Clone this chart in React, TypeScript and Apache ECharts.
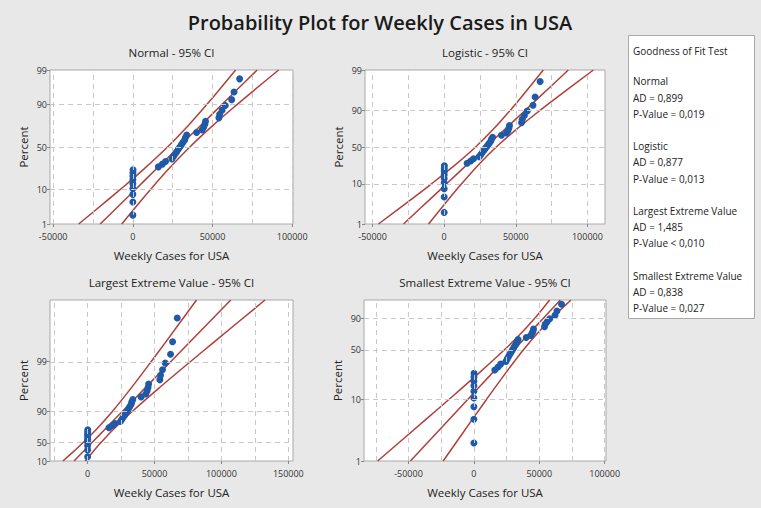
import React, { useEffect, useRef } from "react";
import * as echarts from "echarts";

// ---- data (weekly cases, sorted ascending) ----
const weeklyCases = [
  0, 0, 0, 1, 2, 14, 35, 60, 120,
  16000, 18500, 20500, 24500, 25500, 26500, 27500, 28500, 29500, 30500,
  31500, 32500, 33000, 33800, 40000, 43500, 44500, 45200, 45600, 54000,
  54500, 56000, 58000, 62000, 63500, 67000,
];

// percent levels at which the fitted lines / confidence bounds were read
const percentLevels = [1, 5, 10, 25, 50, 75, 90, 95, 99];

const normalFit = [-20490, -6075, 1619, 14481, 28750, 43019, 55881, 63575, 77990];
const normalCiLeft = [-33990, -16834, -7846, 6711, 21736, 35249, 46416, 52816, 64489];
const normalCiRight = [-6990, 4684, 11084, 22251, 35764, 50789, 65346, 74334, 91491];

const logisticFit = [-28398, -7721, 1635, 15391, 29150, 42909, 56665, 66021, 86698];
const logisticCiLeft = [-45886, -20211, -8842, 7256, 21963, 34774, 46188, 53531, 69210];
const logisticCiRight = [-10910, 4769, 12112, 23526, 36337, 51044, 67142, 78511, 104186];

const levFit = [-10103, -1885, 3146, 12843, 26090, 42897, 62094, 75852, 107002];
const levCiLeft = [-18459, -9039, -3503, 6493, 18655, 32506, 47456, 57944, 81409];
const levCiRight = [-1747, 5269, 9795, 19193, 33525, 53288, 76732, 93760, 132595];

const sevFit = [-48522, -18043, -4582, 14202, 30646, 43607, 53096, 58018, 66059];
const sevCiLeft = [-73563, -35565, -18904, 4035, 23371, 37394, 46590, 51018, 57883];
const sevCiRight = [-23481, -521, 9740, 24369, 37921, 49820, 59602, 65018, 74235];

// tick labels
const stdTickPercents = [1, 10, 50, 90, 99];
const stdTickLabels = ["1", "10", "50", "90", "99"];
const levTickPercents = [1, 10, 50, 90];
const levTickLabels = ["10", "50", "90", "99"];
const sevTickPercents = [1, 10, 50, 90];
const sevTickLabels = ["1", "10", "50", "90"];
const gridPercents = [10, 50, 90];

const xLabelsA = [-50000, 0, 50000, 100000];
const xLabelsLev = [0, 50000, 100000, 150000];
const xGridA = [-50000, -25000, 0, 25000, 50000, 75000, 100000];
const xGridLev = [-25000, 0, 25000, 50000, 75000, 100000, 125000, 150000];
const xGridSev = [-75000, -50000, -25000, 0, 25000, 50000, 75000, 100000];

const panelTitles = [
  "Normal - 95% CI",
  "Logistic - 95% CI",
  "Largest Extreme Value - 95% CI",
  "Smallest Extreme Value - 95% CI",
];

const legendLines = [
  "Goodness of Fit Test",
  "",
  "Normal",
  "AD = 0,899",
  "P-Value = 0,019",
  "",
  "Logistic",
  "AD = 0,877",
  "P-Value = 0,013",
  "",
  "Largest Extreme Value",
  "AD = 1,485",
  "P-Value < 0,010",
  "",
  "Smallest Extreme Value",
  "AD = 0,838",
  "P-Value = 0,027",
];

// ---- probability-scale transforms ----
function probit(p: number): number {
  const a = [-3.969683028665376e1, 2.209460984245205e2, -2.759285104469687e2, 1.38357751867269e2, -3.066479806614716e1, 2.506628277459239];
  const b = [-5.447609879822406e1, 1.615858368580409e2, -1.556989798598866e2, 6.680131188771972e1, -1.328068155288572e1];
  const c = [-7.784894002430293e-3, -3.223964580411365e-1, -2.400758277161838, -2.549732539343734, 4.374664141464968, 2.938163982698783];
  const d = [7.784695709041462e-3, 3.224671290700398e-1, 2.445134137142996, 3.754408661907416];
  const pl = 0.02425;
  if (p < pl) {
    const q = Math.sqrt(-2 * Math.log(p));
    return (((((c[0] * q + c[1]) * q + c[2]) * q + c[3]) * q + c[4]) * q + c[5]) / ((((d[0] * q + d[1]) * q + d[2]) * q + d[3]) * q + 1);
  }
  if (p <= 1 - pl) {
    const q = p - 0.5;
    const r = q * q;
    return ((((((a[0] * r + a[1]) * r + a[2]) * r + a[3]) * r + a[4]) * r + a[5]) * q) / (((((b[0] * r + b[1]) * r + b[2]) * r + b[3]) * r + b[4]) * r + 1);
  }
  const q = Math.sqrt(-2 * Math.log(1 - p));
  return -(((((c[0] * q + c[1]) * q + c[2]) * q + c[3]) * q + c[4]) * q + c[5]) / ((((d[0] * q + d[1]) * q + d[2]) * q + d[3]) * q + 1);
}
const logit = (p: number) => Math.log(p / (1 - p));
const gumbelMax = (p: number) => -Math.log(-Math.log(p));
const gumbelMin = (p: number) => Math.log(-Math.log(1 - p));

const FONT = "Open Sans";
const BLUE = "#1f5aa8";
const RED = "#b0403a";

export default function App() {
  const ref = useRef<HTMLDivElement>(null);
  useEffect(() => {
    if (!ref.current) return;
    const chart = echarts.init(ref.current, null, { renderer: "svg" });
    const n = weeklyCases.length;
    // median-rank plotting positions (Benard), in percent
    const plotPercents = weeklyCases.map((_, i) => ((i + 1 - 0.3) / (n + 0.4)) * 100);

    const panels = [
      { T: probit, fit: normalFit, L: normalCiLeft, R: normalCiRight, ticks: stdTickPercents, labels: stdTickLabels, xMin: -52000, xMax: 100500, xLabels: xLabelsA, xGrid: xGridA, left: 50, top: 70, width: 243, height: 154 },
      { T: logit, fit: logisticFit, L: logisticCiLeft, R: logisticCiRight, ticks: stdTickPercents, labels: stdTickLabels, xMin: -55300, xMax: 112300, xLabels: xLabelsA, xGrid: xGridA, left: 365, top: 70, width: 240, height: 154 },
      { T: gumbelMax, fit: levFit, L: levCiLeft, R: levCiRight, ticks: levTickPercents, labels: levTickLabels, xMin: -28100, xMax: 153500, xLabels: xLabelsLev, xGrid: xGridLev, left: 50, top: 300, width: 243, height: 161 },
      { T: gumbelMin, fit: sevFit, L: sevCiLeft, R: sevCiRight, ticks: sevTickPercents, labels: sevTickLabels, xMin: -84000, xMax: 101000, xLabels: xLabelsA, xGrid: xGridSev, left: 364, top: 300, width: 242, height: 161 },
    ];

    const grids: any[] = [];
    const xAxes: any[] = [];
    const yAxes: any[] = [];
    const series: any[] = [];
    const graphics: any[] = [];

    panels.forEach((p, i) => {
      grids.push({
        left: p.left, top: p.top, width: p.width, height: p.height,
        show: true, backgroundColor: "#ffffff", borderColor: "#a9a9a9", borderWidth: 1,
        containLabel: false, outerBoundsMode: "none",
      });
      xAxes.push({
        type: "value", gridIndex: i, min: p.xMin, max: p.xMax,
        name: "Weekly Cases for USA", nameLocation: "middle", nameGap: 25,
        nameTextStyle: { fontSize: 11.5, color: "#222", fontFamily: FONT },
        axisLine: { show: false, onZero: false },
        axisTick: { show: true, customValues: p.xLabels, length: 3, lineStyle: { color: "#888" } },
        axisLabel: { customValues: p.xLabels, formatter: (v: number) => String(v), fontSize: 9, lineHeight: 10, color: "#333", margin: 7, fontFamily: FONT, showMinLabel: true, showMaxLabel: true, hideOverlap: false },
        splitLine: { show: false },
      });
      const tickVals = p.ticks.map((t) => p.T(t / 100));
      yAxes.push({
        type: "value", gridIndex: i, min: p.T(0.01), max: p.T(0.99),
        name: "Percent", nameLocation: "middle", nameGap: 21,
        nameTextStyle: { fontSize: 11.5, color: "#222", fontFamily: FONT },
        axisLine: { show: false, onZero: false },
        axisTick: { show: true, customValues: tickVals, length: 3, lineStyle: { color: "#888" } },
        axisLabel: {
          customValues: tickVals,
          formatter: (v: number) => {
            let best = 0;
            tickVals.forEach((tv, k) => { if (Math.abs(tv - v) < Math.abs(tickVals[best] - v)) best = k; });
            return p.labels[best];
          },
          fontSize: 9, lineHeight: 9, color: "#333", margin: 3, fontFamily: FONT, showMinLabel: true, showMaxLabel: true, hideOverlap: false,
        },
        splitLine: { show: false },
      });
      // dashed gridlines
      series.push({
        type: "line", xAxisIndex: i, yAxisIndex: i, data: [], z: 1, silent: true,
        markLine: {
          silent: true, symbol: ["none", "none"], label: { show: false },
          lineStyle: { type: [5, 4], color: "#c9c9c9", width: 1 },
          emphasis: { disabled: true },
          data: [
            ...gridPercents.map((g) => ({ yAxis: p.T(g / 100) })),
            ...p.xGrid.filter((g) => g > p.xMin && g < p.xMax).map((g) => ({ xAxis: g })),
          ],
        },
      });
      [p.L, p.fit, p.R].forEach((arr) => {
        series.push({
          type: "line", xAxisIndex: i, yAxisIndex: i, z: 2, smooth: 0.3, showSymbol: false, silent: true,
          lineStyle: { color: RED, width: 1.5 }, clip: true,
          data: percentLevels.map((pc, k) => [arr[k], p.T(pc / 100)]),
        });
      });
      series.push({
        type: "scatter", xAxisIndex: i, yAxisIndex: i, z: 3, symbolSize: 7, silent: true,
        itemStyle: { color: BLUE, opacity: 1 },
        data: weeklyCases.map((v, k) => [v, p.T(plotPercents[k] / 100)]),
      });
      graphics.push({
        type: "text", x: p.left + p.width / 2, y: p.top - 18,
        style: { text: panelTitles[i], align: "center", verticalAlign: "middle", font: `11.5px '${FONT}'`, fill: "#222" },
      });
    });

    graphics.push({
      type: "text", x: 380, y: 22,
      style: { text: "Probability Plot for Weekly Cases in USA", align: "center", verticalAlign: "middle", font: `600 20px '${FONT}'`, fill: "#1a1a1a" },
    });
    graphics.push({
      type: "rect", shape: { x: 628.5, y: 35.5, width: 126, height: 283 },
      style: { fill: "#ffffff", stroke: "#a9a9a9", lineWidth: 1 },
    });
    legendLines.forEach((t, k) => {
      if (!t) return;
      graphics.push({
        type: "text", x: 633, y: k === 0 ? 51 : 49 + k * 16.2,
        style: { text: t, align: "left", verticalAlign: "middle", font: `10px '${FONT}'`, fill: "#222" },
      });
    });

    chart.setOption({
      animation: false,
      backgroundColor: "#e8e8e8",
      textStyle: { fontFamily: FONT },
      grid: grids,
      xAxis: xAxes,
      yAxis: yAxes,
      series,
      graphic: graphics,
    });
    return () => chart.dispose();
  }, []);
  return <div ref={ref} style={{ position: "fixed", left: 0, top: 0, width: 761, height: 508 }} />;
}
